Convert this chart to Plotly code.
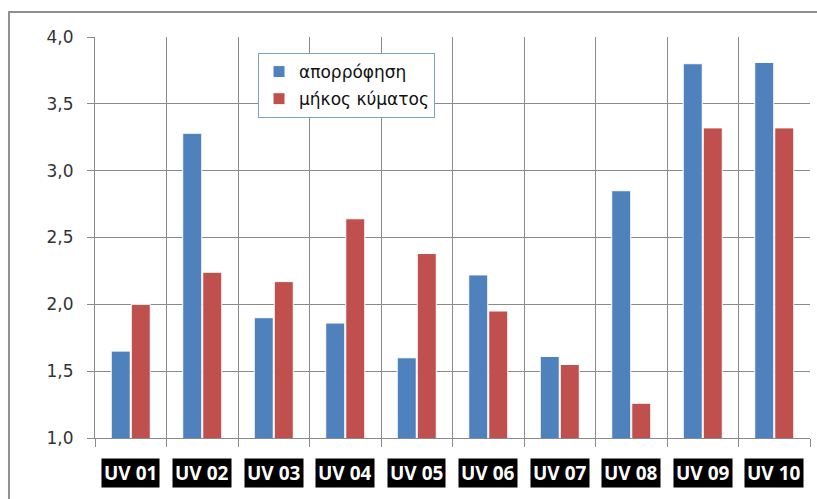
import plotly.graph_objects as go

# Sample labels and measured values
categories = ["UV 01", "UV 02", "UV 03", "UV 04", "UV 05",
              "UV 06", "UV 07", "UV 08", "UV 09", "UV 10"]
absorption = [1.65, 3.28, 1.90, 1.86, 1.60, 2.22, 1.61, 2.85, 3.80, 3.81]
wavelength = [2.00, 2.24, 2.17, 2.64, 2.38, 1.95, 1.55, 1.26, 3.32, 3.32]
series_names = ["απορρόφηση", "μήκος κύματος"]
y_ticks = [1.0, 1.5, 2.0, 2.5, 3.0, 3.5, 4.0]

BLUE = "#4f81bd"
RED = "#c0504d"
GRID = "#8a8a8a"

fig = go.Figure()
fig.add_trace(go.Bar(
    x=categories, y=absorption, name=series_names[0], legendgroup="a",
    marker=dict(color=BLUE, line=dict(color="white", width=1)),
))
fig.add_trace(go.Bar(
    x=categories, y=wavelength, name=series_names[1], legendgroup="b",
    marker=dict(color=RED, line=dict(color="white", width=1)),
))

# Category labels in black boxes below the axis
for cat in categories:
    fig.add_annotation(
        x=cat, y=-0.087, xref="x", yref="paper",
        text="<b>%s</b>" % cat, showarrow=False,
        font=dict(family="Open Sans", size=19, color="white"),
        bgcolor="black", borderpad=2, height=24, yanchor="middle",
    )

# Outer chart frame
fig.add_shape(
    type="rect", xref="paper", yref="paper",
    x0=-0.1203, y0=-0.4, x1=1.2, y1=1.0623,
    line=dict(color="#8f8f8f", width=2), fillcolor="rgba(0,0,0,0)",
    layer="below",
)

fig.update_layout(
    width=817, height=499,
    margin=dict(l=95, r=7, t=37, b=61),
    paper_bgcolor="white", plot_bgcolor="white",
    barmode="group", bargap=0.44, bargroupgap=0.05,
    separators=",.",
    showlegend=True,
    legend=dict(
        x=0.228, y=0.96, xanchor="left", yanchor="top",
        bordercolor="#7f9fd0", borderwidth=1, bgcolor="white",
        font=dict(family="DejaVu Sans", size=17, color="#111111"),
        tracegroupgap=2, traceorder="grouped",
    ),
    xaxis=dict(
        type="category", tickson="boundaries",
        showticklabels=False, ticks="outside", ticklen=8,
        tickcolor=GRID, showgrid=True, gridcolor=GRID, gridwidth=1,
        showline=True, linecolor=GRID, mirror=False, zeroline=False,
    ),
    yaxis=dict(
        range=[1.0, 4.0], tickvals=y_ticks, tickformat=".1f",
        ticks="outside", ticklen=7, tickcolor=GRID,
        showgrid=True, gridcolor=GRID, gridwidth=1,
        showline=True, linecolor=GRID, zeroline=False,
        ticklabelstandoff=10,
        tickfont=dict(family="DejaVu Sans", size=17, color="#333333"),
    ),
)

fig.write_html("out.html")
